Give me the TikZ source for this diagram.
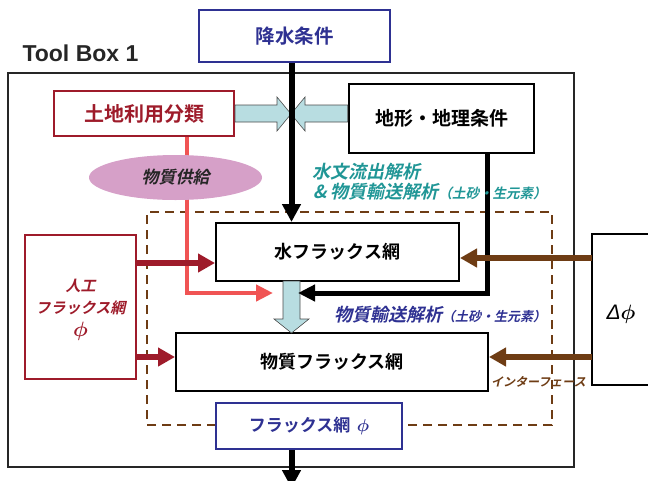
\documentclass[tikz,border=0pt]{standalone}
\usepackage{fontspec}
\usepackage{bm}
\setmainfont{Liberation Sans}
\newfontfamily\cjkb{Noto Sans CJK JP Bold}
\newfontfamily\cjkbi{Noto Sans CJK JP Bold}[FakeSlant=0.22]
\usetikzlibrary{arrows.meta,shapes.geometric}
\definecolor{blueT}{RGB}{46,49,146}
\definecolor{redT}{RGB}{158,27,42}
\definecolor{salmon}{RGB}{240,84,84}
\definecolor{lblue}{RGB}{184,221,225}
\definecolor{pinkE}{RGB}{214,160,200}
\definecolor{tealT}{RGB}{32,150,150}
\definecolor{brownA}{RGB}{110,60,20}
\tikzset{
  jp/.style={font=\cjkb\fontsize{#1}{#1}\selectfont},
  jpi/.style={font=\cjkbi\fontsize{#1}{#1}\selectfont},
  boxn/.style={draw,fill=white,inner sep=0pt,line width=2pt},
  blockarrow/.style={fill=lblue,draw=black!70,line width=0.6pt},
}
\begin{document}
\begin{tikzpicture}[x=1pt,y=-1pt]
\useasboundingbox (0,0) rectangle (648,480);
% outer box and title
\draw[line width=1.3pt,black!85] (8,73) rectangle (574,467);
\node[font=\bfseries\fontsize{23}{23}\selectfont,text=black!85,anchor=west] (title) at (19,53) {Tool Box 1};
% dashed interface box
\draw[brownA,line width=1.8pt,dash pattern=on 9pt off 6pt] (216,425) -- (147,425) -- (147,212) -- (552,212) -- (552,425) -- (402,425);
% boxes
\node[boxn,draw=blueT,minimum width=191pt,minimum height=52pt,jp=19.5,text=blueT] (rain) at (294.5,36) {降水条件};
\node[boxn,draw=redT,minimum width=180pt,minimum height=45pt,jp=20,text=redT] (land) at (144,113.5) {土地利用分類};
\node[boxn,line width=2.6pt,minimum width=185pt,minimum height=69pt,jp=19] (topo) at (441.5,118.5) {地形・地理条件};
\node[boxn,minimum width=243pt,minimum height=58pt,jp=18] (water) at (337.5,252) {水フラックス網};
\node[boxn,minimum width=312pt,minimum height=58pt,jp=18] (matter) at (332,362) {物質フラックス網};
\node[boxn,draw=redT,minimum width=111pt,minimum height=144pt] (artif) at (80.5,307) {};
\node[jpi=15,text=redT,align=center,anchor=center] (artift) at (80.5,310) {人工\\[7pt]フラックス網\\[6pt]{\fontsize{20}{20}\selectfont$\bm{\phi}$}};
\node[boxn,draw=blueT,minimum width=186pt,minimum height=46pt,jp=17,text=blueT] (flux) at (309,426) {フラックス網 \,{\fontsize{19}{19}\selectfont$\bm{\phi}$}};
% delta box (cut by the page edge)
\coordinate (d1) at (660,234);
\coordinate (d2) at (592,234);
\coordinate (d3) at (592,385);
\coordinate (d4) at (660,385);
\draw[line width=2pt] (d1) -- (d2) -- (d3) -- (d4);
\node[font=\fontsize{21}{21}\selectfont] (deltat) at (621,314) {\textit{Δ}$\bm{\phi}$};
% salmon supply line
\coordinate (s1) at (187,293);
\draw[salmon,line width=4.5pt,-{Triangle[length=17pt,width=16pt]}] (land.south -| s1) -- (s1) -- (273,293);
% ellipse
\node[ellipse,fill=pinkE,minimum width=173pt,minimum height=45pt,inner sep=0pt,jpi=17,text=black!85] (supply) at (175.5,177.5) {物質供給};
% light blue block arrows
\draw[blockarrow] (land.east |- 0,105) -- (277,105) -- (277,97) -- (291,114) -- (277,131) -- (277,122) -- (land.east |- 0,122) -- cycle;
\draw[blockarrow] (topo.west |- 0,105) -- (305,105) -- (305,97) -- (291,114) -- (305,131) -- (305,122) -- (topo.west |- 0,122) -- cycle;
\draw[blockarrow] (283,281) -- (283,319) -- (274,319) -- (291.5,333) -- (309,319) -- (300,319) -- (300,281) -- cycle;
% black main arrow
\draw[line width=6pt,-{Triangle[length=18pt,width=18pt]}] (rain.south -| 291.5,0) -- (water.north -| 291.5,0);
% black line from topo
\coordinate (b1) at (487,293);
\draw[line width=5pt,-{Triangle[length=17pt,width=16pt]}] (topo.south -| b1) -- (b1) -- (298,293);
% dark red arrows
\draw[redT,line width=5.5pt,-{Triangle[length=17pt,width=18pt]}] (artif.east |- 0,263) -- (water.west |- 0,263);
\draw[redT,line width=5.5pt,-{Triangle[length=17pt,width=18pt]}] (artif.east |- 0,357) -- (matter.west |- 0,357);
% brown arrows
\draw[brownA,line width=6pt,-{Triangle[length=17pt,width=18pt]}] (d2 |- 0,258) -- (water.east |- 0,258);
\draw[brownA,line width=6pt,-{Triangle[length=17pt,width=18pt]}] (d2 |- 0,357) -- (matter.east |- 0,357);
% bottom arrow
\coordinate (out) at (291.5,488);
\draw[line width=6pt,-{Triangle[length=18pt,width=18pt]}] (flux.south -| out) -- (out);
% labels
\node[jpi=18,text=tealT,anchor=west,inner sep=0pt] (l1) at (312,172) {水文流出解析};
\node[jpi=18,text=tealT,anchor=west,inner sep=0pt] (l2) at (313,192) {\&\ 物質輸送解析{\fontsize{13.5}{13.5}\selectfont （土砂・生元素）}};
\node[jpi=18,text=blueT,anchor=west,inner sep=0pt] (l3) at (334,315) {物質輸送解析{\fontsize{13}{13}\selectfont （土砂・生元素）}};
\node[jpi=12,text=brownA,anchor=west,inner sep=0pt] (l4) at (491,382) {インターフェース};
\end{tikzpicture}
\end{document}
